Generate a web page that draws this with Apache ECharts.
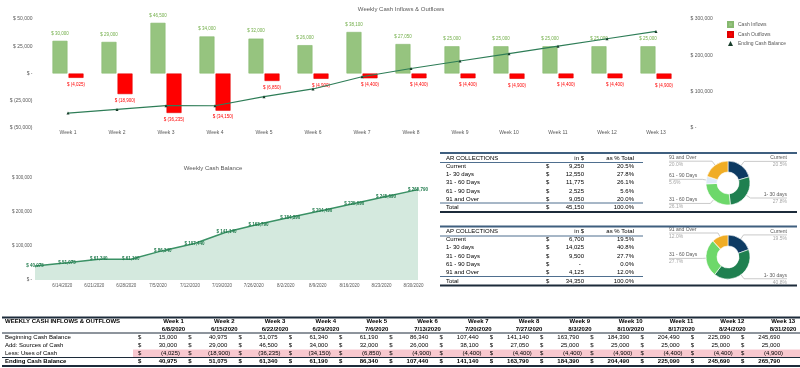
<!DOCTYPE html>
<html><head><meta charset="utf-8">
<script src="https://cdn.jsdelivr.net/npm/echarts@6/dist/echarts.min.js"></script>
<style>html,body{margin:0;padding:0;background:#fff}#c{width:800px;height:368px}</style>
</head><body><div id="c"></div>
<script>
// ---------- DATA ----------
const weeks = ['Week 1','Week 2','Week 3','Week 4','Week 5','Week 6','Week 7','Week 8','Week 9','Week 10','Week 11','Week 12','Week 13'];
const weekDates = ['6/8/2020','6/15/2020','6/22/2020','6/29/2020','7/6/2020','7/13/2020','7/20/2020','7/27/2020','8/3/2020','8/10/2020','8/17/2020','8/24/2020','8/31/2020'];
const beginningCash = [15000,40975,51075,61340,61190,86340,107440,141140,163790,184390,204490,225090,245690];
const cashInflows = [30000,29000,46500,34000,32000,26000,38100,27050,25000,25000,25000,25000,25000];
const cashOutflows = [-4025,-18900,-36235,-34150,-6850,-4900,-4400,-4400,-4400,-4900,-4400,-4400,-4900];
const endingCash = [40975,51075,61340,61190,86340,107440,141140,163790,184390,204490,225090,245690,265790];
const balanceTickLabels = ['6/14/2020','6/21/2020','6/28/2020','7/5/2020','7/12/2020','7/19/2020','7/26/2020','8/2/2020','8/9/2020','8/16/2020','8/23/2020','8/30/2020'];
const agingBuckets = ['Current','1- 30 days','31 - 60 Days','61 - 90 Days','91 and Over'];
const arValues = [9250,12550,11775,2525,9050];
const apValues = [6700,14025,9500,0,4125];
const rowLabels = ['Beginning Cash Balance','Add: Sources of Cash','Less: Uses of Cash','Ending Cash Balance'];

// ---------- HELPERS ----------
const FONT = '"Liberation Sans", Arial, sans-serif';
const num = v => Math.abs(v).toLocaleString('en-US');
const money = v => v === 0 ? '$ -' : (v < 0 ? '$ (' + num(v) + ')' : '$ ' + num(v));
const acct = v => v === 0 ? '-' : (v < 0 ? '(' + num(v) + ')' : num(v));
const dayNum = s => { const [m,d,y] = s.split('/').map(Number); return Date.UTC(y, m-1, d) / 86400000; };
const dayStr = v => { const dt = new Date(Math.round(v) * 86400000); return (dt.getUTCMonth()+1) + '/' + dt.getUTCDate() + '/' + dt.getUTCFullYear(); };

const G = [];
function txt(str, x, y, align, o) {
  o = o || {};
  G.push({type:'text', x:x, y:y, silent:true, z:10, style:{text:str, align:align||'left', verticalAlign:'middle',
    fill:o.color||'#000', font:(o.bold?'bold ':'') + (o.size||6) + 'px ' + FONT}});
}
function hline(x1, x2, y, w, c) {
  G.push({type:'line', silent:true, z:9, shape:{x1:x1, y1:y, x2:x2, y2:y}, style:{stroke:c, lineWidth:w}});
}
function rect(x, y, w, h, c) {
  G.push({type:'rect', silent:true, z:1, shape:{x:x, y:y, width:w, height:h}, style:{fill:c}});
}

// titles
txt('Weekly Cash Inflows & Outflows', 401, 9, 'center', {color:'#595959', size:6});
txt('Weekly Cash Balance', 213, 168, 'center', {color:'#595959', size:6});

// ---------- AGING TABLES ----------
function agingTable(title, values, y0, topColor) {
  const total = values.reduce((a,b)=>a+b,0);
  hline(440, 797, y0, 2, topColor);
  txt(title, 446, y0+5, 'left');
  txt('in $', 584, y0+5, 'right');
  txt('as % Total', 634, y0+5, 'right');
  hline(440, 643, y0+9.5, 1, '#4f6f8f');
  values.forEach((v,i) => {
    const y = y0 + 13 + i*8.3;
    txt(agingBuckets[i], 446, y, 'left');
    txt('$', 546, y, 'left');
    txt(v === 0 ? '-  ' : num(v), 584, y, 'right');
    txt((v/total*100).toFixed(1) + '%', 634, y, 'right');
  });
  hline(440, 643, y0+50, 1, '#4f6f8f');
  const yt = y0 + 54.5;
  txt('Total', 446, yt, 'left');
  txt('$', 546, yt, 'left');
  txt(num(total), 584, yt, 'right');
  txt('100.0%', 634, yt, 'right');
  hline(440, 797, y0+59, 2, '#1c2b3a');
}
agingTable('AR COLLECTIONS', arValues, 153, '#3f5f7f');
agingTable('AP COLLECTIONS', apValues, 226.5, '#3f5f7f');

// ---------- WEEKLY TABLE ----------
hline(2, 800, 317.5, 2, '#1c2b3a');
txt('WEEKLY CASH INFLOWS & OUTFLOWS', 5, 321.5, 'left', {bold:true});
weeks.forEach((w,i) => {
  const cx = 173.5 + 50.8*i;
  txt(w, cx, 321.5, 'center', {bold:true});
  txt(weekDates[i], cx, 329, 'center', {bold:true});
});
hline(2, 800, 333, 1, '#1c2b3a');
rect(133, 349.5, 667, 8, '#f8c8cf');
const tableRows = [beginningCash, cashInflows, cashOutflows, endingCash];
tableRows.forEach((row, r) => {
  const y = 337.5 + r*8;
  const bold = r === 3;
  txt(rowLabels[r], 5, y, 'left', {bold:bold});
  row.forEach((v,i) => {
    const xr = 177 + 50.25*i;
    txt('$', xr-39, y, 'left', {bold:bold});
    txt(acct(v), v < 0 ? xr+3 : xr, y, 'right', {bold:bold});
  });
});
hline(2, 800, 357.5, 1, '#1c2b3a');
hline(2, 800, 366, 2, '#1c2b3a');

// ---------- CHART ----------
const chart = echarts.init(document.getElementById('c'));
const axisTxt = {fontSize:5, color:'#595959', fontFamily:FONT};
const pieColors = ['#0d3a62','#1f8050','#6dd86a','#ddeaf6','#f0ad25'];

function pieSeries(values, top) {
  const total = values.reduce((a,b)=>a+b,0);
  return {
    type:'pie', left:666, top:top, width:124, height:62,
    center:[62, 31], radius:[11, 22], startAngle:90, clockwise:true,
    avoidLabelOverlap:true, silent:true,
    itemStyle:{borderColor:'#fff', borderWidth:0.6},
    label:{
      alignTo:'edge', edgeDistance:3, minMargin:2, overflow:'none',
      formatter: p => '{n|' + p.name + '}\n{p|' + (p.value/total*100).toFixed(1) + '%}',
      rich:{n:{fontSize:5, color:'#595959', fontFamily:FONT, lineHeight:7}, p:{fontSize:5, color:'#a6a6a6', fontFamily:FONT, lineHeight:7}}
    },
    labelLine:{length:5, length2:0, lineStyle:{color:'#a6a6a6', width:0.6}},
    labelLayout: function (params) {
      const pts = params.labelLinePoints;
      if (pts) {
        const isLeft = params.labelRect.x < 728;
        pts[2][0] = isLeft ? params.labelRect.x : params.labelRect.x + params.labelRect.width;
      }
      return {labelLinePoints: pts};
    },
    data: agingBuckets.map((b,i) => values[i] === 0
      ? {name:b, value:0, itemStyle:{color:pieColors[i]}, label:{show:false}, labelLine:{show:false}}
      : {name:b, value:values[i], itemStyle:{color:pieColors[i]}})
  };
}

const option = {
  animation:false,
  textStyle:{fontFamily:FONT},
  legend:{
    orient:'vertical', left:722, top:16, itemWidth:5, itemHeight:5, itemGap:3,
    textStyle:{fontSize:5, color:'#595959', fontFamily:FONT},
    data:[{name:'Cash Inflows', icon:'rect'},{name:'Cash Outflows', icon:'rect'},{name:'Ending Cash Balance', icon:'triangle'}]
  },
  grid:[
    {left:43.5, right:119.5, top:19, bottom:240},
    {left:35, right:382, top:178, bottom:88}
  ],
  xAxis:[
    {type:'category', gridIndex:0, data:weeks, position:'bottom',
     axisLine:{show:false, onZero:false}, axisTick:{show:false},
     axisLabel:Object.assign({margin:2, interval:0}, axisTxt)},
    {type:'value', gridIndex:1, min:dayNum(weekDates[0]), max:dayNum(weekDates[weekDates.length-1]),
     axisLine:{show:false}, axisTick:{show:false}, splitLine:{show:false},
     axisLabel:Object.assign({margin:3, formatter:dayStr, customValues:balanceTickLabels.map(dayNum)}, axisTxt, {fontSize:4.5})}
  ],
  yAxis:[
    {type:'value', gridIndex:0, min:-50000, max:50000, interval:25000, splitLine:{show:false},
     axisLine:{show:false}, axisTick:{show:false}, axisLabel:Object.assign({margin:11, formatter:money}, axisTxt)},
    {type:'value', gridIndex:0, min:0, max:300000, interval:100000, splitLine:{show:false}, position:'right',
     axisLine:{show:false}, axisTick:{show:false}, axisLabel:Object.assign({margin:10, formatter:money}, axisTxt)},
    {type:'value', gridIndex:1, min:0, max:300000, interval:100000, splitLine:{show:false},
     axisLine:{show:false}, axisTick:{show:false}, axisLabel:Object.assign({margin:3, formatter:money}, axisTxt, {fontSize:4.5})}
  ],
  series:[
    {name:'Cash Inflows', type:'bar', xAxisIndex:0, yAxisIndex:0, data:cashInflows, barWidth:15, barGap:'7%',
     itemStyle:{color:'#96c47f', borderColor:'#86b86f', borderWidth:0.6},
     label:{show:true, position:'top', distance:5, formatter:p=>money(p.value), fontSize:4.5, color:'#70ad47', fontFamily:FONT}},
    {name:'Cash Outflows', type:'bar', xAxisIndex:0, yAxisIndex:0, data:cashOutflows, barWidth:15,
     itemStyle:{color:'#ff0000', borderColor:'#e00000', borderWidth:0.6},
     label:{show:true, position:'bottom', distance:4, formatter:p=>money(p.value), fontSize:4.5, color:'#ff0000', fontFamily:FONT}},
    {name:'Ending Cash Balance', type:'line', xAxisIndex:0, yAxisIndex:1, data:endingCash, z:5,
     symbol:'triangle', symbolSize:3, showSymbol:true,
     lineStyle:{color:'#2e7d57', width:1.2}, itemStyle:{color:'#173d2a'}},
    {name:'Weekly Cash Balance', type:'line', xAxisIndex:1, yAxisIndex:2,
     data:weekDates.map((d,i)=>[dayNum(d), endingCash[i]]),
     showSymbol:true, symbol:'circle', symbolSize:0.5, itemStyle:{color:'#3a9165'},
     lineStyle:{color:'#3a9165', width:1.5}, areaStyle:{color:'#d4e9de', opacity:1},
     label:{show:true, position:'inside', formatter:p=>money(p.value[1]), fontSize:4.5, fontWeight:'bold', color:'#1f7a4c', fontFamily:FONT}},
    pieSeries(arValues, 152),
    pieSeries(apValues, 226)
  ],
  graphic:{elements:G}
};
chart.setOption(option);
</script>
</body></html>
